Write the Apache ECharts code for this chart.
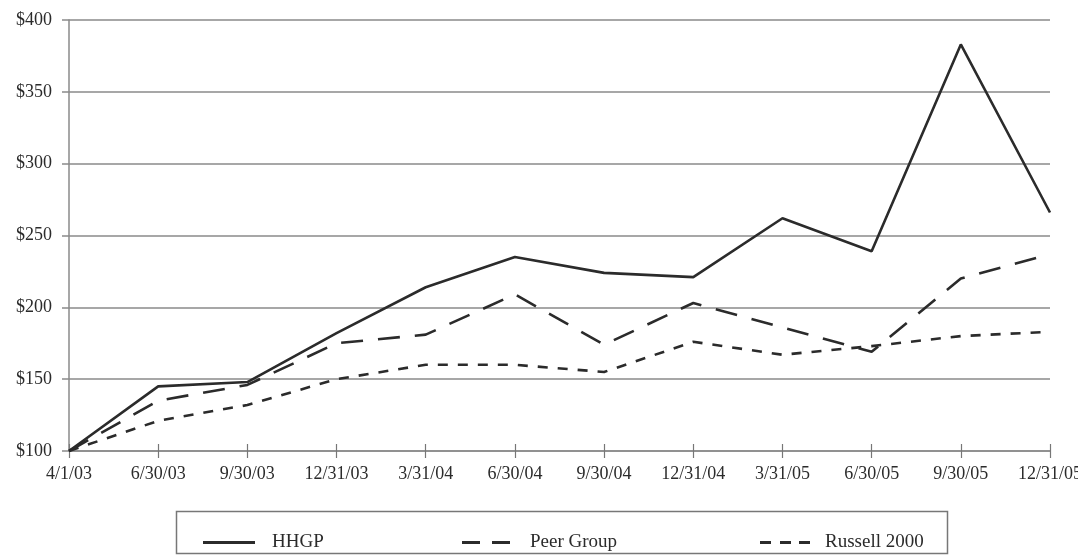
<!DOCTYPE html>
<html>
<head>
<meta charset="utf-8">
<script src="https://cdn.jsdelivr.net/npm/echarts@6/dist/echarts.min.js"></script>
<style>
  html, body { margin: 0; padding: 0; background: #fff; }
  #main { width: 1078px; height: 559px; }
</style>
</head>
<body>
<div id="main"></div>
<script>
var dates = ['4/1/03', '6/30/03', '9/30/03', '12/31/03', '3/31/04', '6/30/04',
             '9/30/04', '12/31/04', '3/31/05', '6/30/05', '9/30/05', '12/31/05'];
var hhgp = [100, 145, 148, 182, 214, 235, 224, 221, 262, 239, 383, 266];
var peerGroup = [100, 135, 146, 175, 181, 209, 174, 203, 186, 169, 220, 237];
var russell2000 = [100, 121, 132, 150, 160, 160, 155, 176, 167, 173, 180, 183];

function createChart() {
    var chartDom = document.getElementById('main');
    var myChart = echarts.init(chartDom);
    var font = '"Liberation Serif", "DejaVu Serif", serif';
    var ink = '#2b2b2b';
    var option;

    // legend swatches drawn as line segments
    var solidIcon = 'path://M0,0h52v3h-52z';
    var dashIcon = 'path://M0,0h18v3h-18z M30,0h18v3h-18z';
    var dotIcon = 'path://M0,0h11v3h-11z M20,0h11v3h-11z M39,0h11v3h-11z';

    function legendAt(left, name, icon, w, gap) {
        return {
            left: left, top: 528, itemWidth: w, itemHeight: 3, itemGap: 0,
            data: [{ name: name, icon: icon, itemStyle: { color: ink } }],
            textStyle: { fontFamily: font, fontSize: 19, color: ink, padding: [0, 0, 0, gap] }
        };
    }

    option = {
    animation: false,
    textStyle: { fontFamily: font },
    grid: { left: 69, right: 28, top: 20, bottom: 108, outerBoundsMode: 'none', containLabel: false },
    legend: [
        legendAt(198, 'HHGP', solidIcon, 52, 12),
        legendAt(457, 'Peer Group', dashIcon, 48, 15),
        legendAt(755, 'Russell 2000', dotIcon, 50, 10)
    ],
    graphic: [{
        type: 'rect',
        shape: { x: 176.5, y: 511.5, width: 771, height: 42 },
        style: { fill: 'none', stroke: '#777', lineWidth: 1.5 },
        silent: true
    }],
    xAxis: [{
        type: 'category',
        data: dates,
        boundaryGap: false,
        axisLine: { lineStyle: { color: '#8a8a8a', width: 1.5 } },
        axisTick: { length: 7, lineStyle: { color: '#777', width: 1.2 } },
        axisLabel: { margin: 14, fontSize: 18, color: ink, fontFamily: font,
                     interval: 0, hideOverlap: false },
        splitLine: { show: false }
    }, {
        type: 'category',
        data: dates,
        boundaryGap: false,
        position: 'bottom',
        axisLine: { show: false },
        axisTick: { inside: true, length: 7, lineStyle: { color: '#777', width: 1.2 } },
        axisLabel: { show: false }
    }],
    yAxis: {
        type: 'value',
        min: 100,
        max: 400,
        interval: 50,
        axisLine: { show: true, lineStyle: { color: '#8a8a8a', width: 1.5 } },
        axisTick: { show: true, length: 7, lineStyle: { color: '#8a8a8a', width: 1.5 } },
        axisLabel: { margin: 17, fontSize: 18, color: ink, fontFamily: font,
                     formatter: function (v) { return '$' + v; } },
        splitLine: { lineStyle: { color: '#8a8a8a', width: 1.5 } }
    },
    series: [
        {
        name: 'HHGP',
        type: 'line',
        data: hhgp,
        symbol: 'none',
        itemStyle: { color: ink },
        lineStyle: { color: ink, width: 2.6, type: 'solid' }
        },
        {
        name: 'Peer Group',
        type: 'line',
        data: peerGroup,
        symbol: 'none',
        itemStyle: { color: ink },
        lineStyle: { color: ink, width: 2.6, type: [22, 15] }
        },
        {
        name: 'Russell 2000',
        type: 'line',
        data: russell2000,
        symbol: 'none',
        itemStyle: { color: ink },
        lineStyle: { color: ink, width: 2.6, type: [10, 10] }
        }
    ]
    };

    option && myChart.setOption(option);
}

createChart();
</script>
</body>
</html>
